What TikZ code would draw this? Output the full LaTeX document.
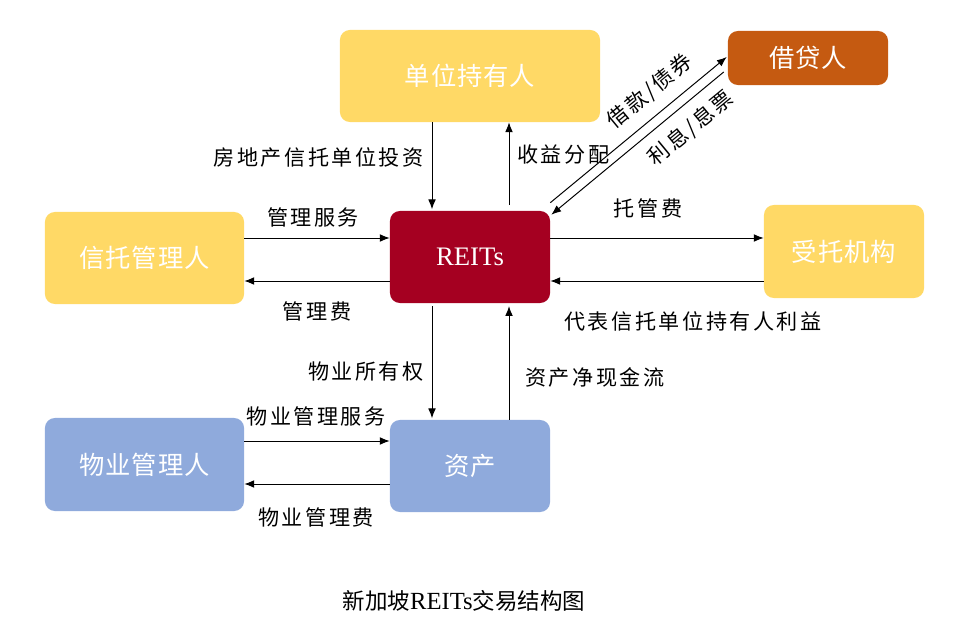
\documentclass[tikz,border=0pt]{standalone}
\usepackage{fontspec}
\setmainfont{Liberation Serif}
\newfontfamily\cjk{Noto Sans CJK SC}
\newfontfamily\cjklab[LetterSpace=12]{Noto Sans CJK SC}
\newfontfamily\cjkbox[LetterSpace=4]{Noto Sans CJK SC}
\usepackage{tikz}
\usetikzlibrary{calc,arrows.meta}

\definecolor{holdyellow}{HTML}{FFD966}
\definecolor{lendorange}{HTML}{C55A11}
\definecolor{reitsred}{HTML}{A50021}
\definecolor{assetblue}{HTML}{8FAADC}

\tikzset{
  boxnode/.style={rounded corners=7pt,text=white,inner sep=0pt,
    font=\cjkbox\fontsize{18}{21}\selectfont},
  lab/.style={inner sep=0pt,font=\cjklab\fontsize{15}{18}\selectfont},
  flow/.style={-{Latex[length=7pt,width=5.5pt]},line width=0.7pt}
}

\begin{document}
\begin{tikzpicture}[x=0.025cm,y=-0.025cm]
              \useasboundingbox (0,0) rectangle (972,635);
              % boxes
              \node[boxnode,fill=holdyellow,minimum width=6.5cm,minimum height=2.3cm](hold)at(470,76){单位持有人};
              \node[boxnode,fill=lendorange,minimum width=4cm,minimum height=1.35cm](lend)at(808,58){借贷人};
              \node[boxnode,fill=holdyellow,minimum width=4.975cm,minimum height=2.3cm](trust)at(144.5,258){信托管理人};
              \node[boxnode,fill=reitsred,minimum width=4cm,minimum height=2.3cm,font=\fontsize{19}{22}\selectfont](reits)at(470,257){REITs};
              \node[boxnode,fill=holdyellow,minimum width=4cm,minimum height=2.325cm](trustee)at(844,251.5){受托机构};
              \node[boxnode,fill=assetblue,minimum width=4.975cm,minimum height=2.325cm](pm)at(144.5,464.5){物业管理人};
              \node[boxnode,fill=assetblue,minimum width=4cm,minimum height=2.3cm](asset)at(470,466){资产};
              % lanes
              \coordinate(xl)at(432,0);
              \coordinate(xr)at(509,0);
              \coordinate(ya)at(0,238);
              \coordinate(yb)at(0,281);
              \coordinate(yc)at(0,441);
              \coordinate(yd)at(0,484);
              % vertical flows
              \draw[flow] (hold.south -| xl) -- ([yshift=1pt]reits.north -| xl);
              \draw[flow] ([yshift=4pt]reits.north -| xr) -- (hold.south -| xr);
              \draw[flow] ([yshift=-2pt]reits.south -| xl) -- ([yshift=1pt]asset.north -| xl);
              \draw[flow] (asset.north -| xr) -- ([yshift=-2pt]reits.south -| xr);
              % horizontal flows
              \draw[flow] (trust.east |- ya) -- (reits.west |- ya);
              \draw[flow] (reits.west |- yb) -- (trust.east |- yb);
              \draw[flow] (reits.east |- ya) -- (trustee.west |- ya);
              \draw[flow] (trustee.west |- yb) -- (reits.east |- yb);
              \draw[flow] (pm.east |- yc) -- (asset.west |- yc);
              \draw[flow] (asset.west |- yd) -- (pm.east |- yd);
              % lender
              \draw[flow] ($(reits.north east)+(0,-8)$) -- ($(lend.west)+(-1,-1)$);
              \draw[flow] ($(lend.west)+(-4,14)$) -- ($(reits.north east)+(1,4)$);
              % labels
              \node[lab,anchor=east](l1)at(424,157){房地产信托单位投资};
              \node[lab,anchor=west](l2)at(517,155){收益分配};
              \node[lab](l3)at(313,217){管理服务};
              \node[lab](l4)at(317,311){管理费};
              \node[lab](l5)at(648,208){托管费};
              \node[lab](l6)at(693,321){代表信托单位持有人利益};
              \node[lab,anchor=east](l7)at(424,372){物业所有权};
              \node[lab,anchor=west](l8)at(525,377){资产净现金流};
              \node[lab](l9)at(316,416){物业管理服务};
              \node[lab](l10)at(316,517){物业管理费};
              \node[lab,rotate=39.5](l11)at(650,91){借款/债券};
              \node[lab,rotate=39.5](l12)at(691,128){利息/息票};
              \node[inner sep=0pt,font=\fontsize{17.5}{20}\selectfont](cap)at(464,601){{\cjk\fontsize{16}{20}\selectfont 新加坡}REITs{\cjk\fontsize{16}{20}\selectfont 交易结构图}};
            \end{tikzpicture}
\end{document}
